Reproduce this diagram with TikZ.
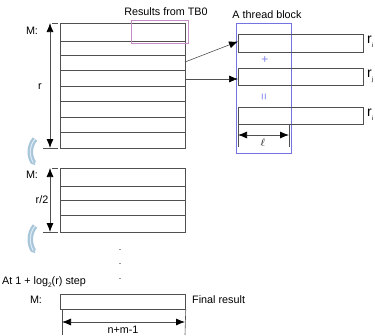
\documentclass[tikz,border=0pt]{standalone}
\usepackage{fontspec}
\setmainfont{Liberation Sans}
\usetikzlibrary{arrows.meta}
\definecolor{ln}{HTML}{505050}
\definecolor{pinkbox}{HTML}{C68BC8}
\definecolor{bluebox}{HTML}{7474E0}
\definecolor{blueop}{HTML}{8080E8}
\definecolor{curl}{HTML}{A8C6DA}
\definecolor{curlin}{HTML}{DCEAF3}
\tikzset{
  x=1pt,y=-1pt,
  cell/.style={draw=ln, line width=0.75pt},
  sep/.style={draw=ln, line width=0.75pt},
  dim/.style={draw=ln, line width=0.75pt, {Latex[length=9pt,width=7pt,color=black]}-{Latex[length=9pt,width=7pt,color=black]}},
  tick/.style={draw=ln, line width=0.6pt},
  lbl/.style={font=\fontsize{10.8}{12}\selectfont, inner sep=0pt},
  feed/.style={draw=ln, line width=0.6pt, -{Latex[length=9pt,width=7pt,color=black]}},
  curly/.style={draw=curl, line width=2.2pt, double=curlin, double distance=1.1pt, -{Triangle[length=3pt,width=5pt,open,fill=curlin]}},
  rlab/.style={font=\fontsize{14}{15}\selectfont, inner sep=0pt, anchor=west},
}
\begin{document}
\begin{tikzpicture}
\useasboundingbox (0,0) rectangle (375,335);
% ---- first matrix
\node[cell, minimum width=125pt, minimum height=125pt, inner sep=0pt, anchor=north west] (m1) at (60,23) {};
\foreach \yy in {41.5,55.5,70.5,86,101,117,132.5} \draw[sep] (60,\yy) -- (185,\yy);
\node[draw=pinkbox, line width=0.7pt, minimum width=57pt, minimum height=23pt, inner sep=0pt, anchor=north west] (tb0) at (131,20) {};
\node[lbl] (restxt) at (166,12) {Results from TB0};
\coordinate (t1a) at (52,23); \coordinate (t1b) at (58,23);
\coordinate (b1a) at (43,148); \coordinate (b1b) at (58,148);
\draw[tick] (t1a) -- (t1b); \draw[tick] (b1a) -- (b1b);
\coordinate (r1top) at (50,23); \coordinate (r1bot) at (50,148);
\draw[dim] (r1top) -- (r1bot);
\node[lbl] (M1) at (32,31) {M:};
\node[lbl] (rlab) at (40,87) {r};
% ---- thread block
\node[draw=bluebox, line width=0.7pt, minimum width=55pt, minimum height=130pt, inner sep=0pt, anchor=north west] (blk) at (236,23) {};
\node[lbl] (blktxt) at (267,15) {A thread block};
\node[cell, minimum width=125pt, minimum height=17.5pt, inner sep=0pt, anchor=north west] (ra) at (238,34) {};
\node[cell, minimum width=125pt, minimum height=17pt, inner sep=0pt, anchor=north west] (rb) at (238,68) {};
\node[cell, minimum width=125pt, minimum height=17pt, inner sep=0pt, anchor=north west] (rc) at (238,107) {};
\node[rlab] (la) at (367,42) {r\raisebox{-4pt}{\fontsize{6}{6}\selectfont i}};
\node[rlab] (lb) at (367,76) {r\raisebox{-4pt}{\fontsize{6}{6}\selectfont j}};
\node[rlab] (lc) at (367,115) {r\raisebox{-4pt}{\fontsize{6}{6}\selectfont i}};
\node[text=blueop, font=\fontsize{12}{12}\selectfont, inner sep=0pt] (plus) at (265,60) {+};
\node[text=blueop, font=\fontsize{12}{12}\selectfont, inner sep=0pt, rotate=90] (eq) at (265,97) {=};
\coordinate (lt1) at (238,147); \coordinate (lt2) at (289,147);
\coordinate (lt2top) at (289,124);
\draw[tick] (rc.south west) -- (lt1);
\draw[tick] (lt2top) -- (lt2);
\coordinate (la1) at (238,135); \coordinate (la2) at (289,135);
\draw[dim] (la1) -- (la2);
\node[font=\fontsize{11}{11}\selectfont, inner sep=0pt] (ell) at (263,143) {$\ell$};
% ---- feeds
\coordinate (f1) at (185,62); \coordinate (f2) at (185,79);
\coordinate (g1) at (238,41.5); \coordinate (g2) at (238,79);
\draw[feed] (f1) -- (g1);
\draw[feed] (f2) -- (g2);
% ---- curly arrows
\coordinate (c1a) at (35,139); \coordinate (c1b) at (35,165);
\draw[curly] (c1a) .. controls (29,146) and (29,156) .. (c1b);
\coordinate (c2a) at (35,226); \coordinate (c2b) at (35,253);
\draw[curly] (c2a) .. controls (29,233) and (29,244) .. (c2b);
% ---- second matrix
\node[cell, minimum width=125pt, minimum height=64pt, inner sep=0pt, anchor=north west] (m2) at (60,168) {};
\foreach \yy in {186,200,215} \draw[sep] (60,\yy) -- (185,\yy);
\coordinate (t2a) at (52,168); \coordinate (t2b) at (58,168);
\coordinate (b2a) at (43,232); \coordinate (b2b) at (58,232);
\draw[tick] (t2a) -- (t2b); \draw[tick] (b2a) -- (b2b);
\coordinate (r2top) at (50,168); \coordinate (r2bot) at (50,232);
\draw[dim] (r2top) -- (r2bot);
\node[lbl] (M2) at (32,175) {M:};
\node[lbl] (r2lab) at (42,200) {r/2};
% ---- dots
\node[inner sep=0pt] (d1) at (120,250) {\fontsize{9}{9}\selectfont .};
\node[inner sep=0pt] (d2) at (120,264) {\fontsize{9}{9}\selectfont .};
\node[inner sep=0pt] (d3) at (120,279) {\fontsize{9}{9}\selectfont .};
% ---- final
\node[lbl, anchor=west] (step) at (2,282) {At 1 + log\raisebox{-2.5pt}{\fontsize{6.5}{6.5}\selectfont 2}(r) step};
\node[cell, minimum width=125pt, minimum height=15pt, inner sep=0pt, anchor=north west] (m3) at (60,293.5) {};
\node[lbl] (M3) at (36,300) {M:};
\node[lbl, anchor=west] (fin) at (192,300) {Final result};
\coordinate (ft1) at (62,335); \coordinate (ft2) at (185,335);
\draw[tick] (m3.south west) ++(2,0) -- (ft1);
\draw[tick] (m3.south east) -- (ft2);
\coordinate (fa1) at (62,322); \coordinate (fa2) at (185,322);
\draw[dim] (fa1) -- (fa2);
\node[lbl, fill=white, inner sep=0.5pt] (nm) at (123,329.5) {n+m-1};
\end{tikzpicture}
\end{document}
